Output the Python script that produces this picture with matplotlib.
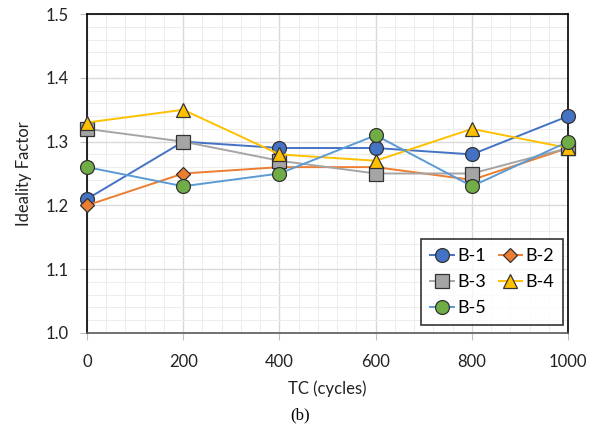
import numpy as np
import matplotlib.pyplot as plt
from matplotlib.ticker import MultipleLocator

plt.rcParams['font.family'] = ['Lato', 'DejaVu Sans']

# thermal cycling data
cycles = [0, 200, 400, 600, 800, 1000]
b1 = [1.21, 1.30, 1.29, 1.29, 1.28, 1.34]
b2 = [1.20, 1.25, 1.26, 1.26, 1.24, 1.29]
b3 = [1.32, 1.30, 1.27, 1.25, 1.25, 1.29]
b4 = [1.33, 1.35, 1.28, 1.27, 1.32, 1.29]
b5 = [1.26, 1.23, 1.25, 1.31, 1.23, 1.30]
names = ['B-1', 'B-2', 'B-3', 'B-4', 'B-5']

fig = plt.figure(figsize=(6, 4.3), dpi=100)
ax = fig.add_axes([0.145, 0.226, 0.802, 0.741])

styles = [
    dict(color='#4472C4', marker='o', mfc='#4472C4', ms=10),
    dict(color='#ED7D31', marker='D', mfc='#ED7D31', ms=7),
    dict(color='#A5A5A5', marker='s', mfc='#A5A5A5', ms=10),
    dict(color='#FFC000', marker='^', mfc='#FFC000', ms=10),
    dict(color='#5B9BD5', marker='o', mfc='#70AD47', ms=10),
]
lines = []
for name, ys, st in zip(names, [b1, b2, b3, b4, b5], styles):
    ln, = ax.plot(cycles, ys, lw=1.4, mec='#333333', mew=0.9, label=name,
                  clip_on=False, zorder=3, **st)
    lines.append(ln)

ax.set_xlim(0, 1000)
ax.set_ylim(1.0, 1.5)
ax.xaxis.set_major_locator(MultipleLocator(200))
ax.xaxis.set_minor_locator(MultipleLocator(40))
ax.yaxis.set_major_locator(MultipleLocator(0.1))
ax.yaxis.set_minor_locator(MultipleLocator(0.02))
ax.yaxis.set_major_formatter(plt.FormatStrFormatter('%.1f'))
ax.grid(which='major', color='#D9D9D9', lw=1.0)
ax.grid(which='minor', color='#EDEDED', lw=0.7)
ax.set_axisbelow(True)

for s in ['left', 'right', 'top']:
    ax.spines[s].set_color('black')
    ax.spines[s].set_linewidth(1.2)
ax.spines['bottom'].set_color('#595959')
ax.spines['bottom'].set_linewidth(1.2)

ax.tick_params(which='major', length=5, color='#BFBFBF', labelsize=12,
               labelcolor='#222222')
ax.tick_params(axis='x', pad=10)
ax.tick_params(axis='y', pad=8)
ax.tick_params(which='minor', length=0)

ax.set_xlabel('TC (cycles)', fontsize=12, color='#222222', labelpad=8)
ax.set_ylabel('Ideality Factor', fontsize=12, color='#222222', labelpad=10)

fig.text(0.5, 0.035, '(b)', fontsize=12, family='Liberation Serif',
         ha='center', va='center')

# legend filled row by row: B-1 B-2 / B-3 B-4 / B-5
order = [0, 2, 4, 1, 3]
leg = ax.legend([lines[i] for i in order], [names[i] for i in order],
                ncol=2, loc='lower right', bbox_to_anchor=(0.99, 0.025),
                borderaxespad=0, fontsize=13, frameon=True, fancybox=False,
                edgecolor='black', handlelength=1.3, handletextpad=0.2,
                columnspacing=0.7, borderpad=0.5, labelspacing=0.55)
leg.get_frame().set_linewidth(1.2)

fig.savefig('out.png', dpi=100)
